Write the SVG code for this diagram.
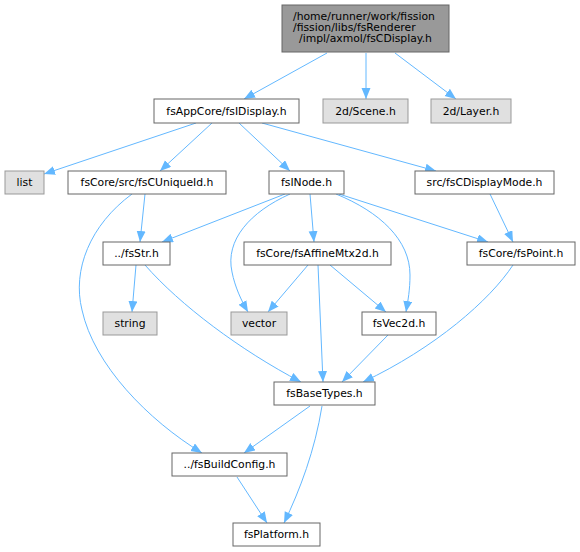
<svg xmlns="http://www.w3.org/2000/svg" width="580" height="552" viewBox="0 0 580 552">
<defs>
<style>
.n rect{fill:#ffffff;stroke:#666666;stroke-width:1}
.x rect{fill:#e0e0e0;stroke:#999999;stroke-width:1}
.m rect{fill:#999999;stroke:#666666;stroke-width:1}
text{font-family:"DejaVu Sans","Liberation Sans",sans-serif;font-size:10.8px;fill:#000000;text-anchor:middle}
#edges path{fill:none;stroke:#63b8ff;stroke-width:1;marker-end:url(#ah)}
</style>
<marker id="ah" markerUnits="userSpaceOnUse" markerWidth="12" markerHeight="10" refX="11" refY="4.5" orient="auto">
<path d="M0,0 L11,4.5 L0,9 z" fill="#63b8ff"/>
</marker>
</defs>
<rect width="580" height="552" fill="#ffffff"/>
<g id="edges">
<path d="M327,53 L244,99"/>
<path d="M366,53 L366,99"/>
<path d="M395,53 L456,99"/>
<path d="M196,123 L44,174"/>
<path d="M212,123 L160,171"/>
<path d="M239,123 L290,171"/>
<path d="M262,123 L436,171"/>
<path d="M145,194 L140,242"/>
<path d="M132,194 C 90,225 72,270 82,310 C 94,365 148,420 202,453"/>
<path d="M285,194 L162,242"/>
<path d="M290,194 C 250,212 225,240 232,272 C 235,287 241,300 248,312"/>
<path d="M310,194 L314,242"/>
<path d="M336,194 C 380,212 410,240 410,275 C 410,290 408,300 406,312"/>
<path d="M339,194 L488,242"/>
<path d="M490,194 L513,242"/>
<path d="M136,265 L132,312"/>
<path d="M145,265 C 180,305 240,350 301,382"/>
<path d="M308,265 L268,312"/>
<path d="M318,265 L323,382"/>
<path d="M330,265 L386,312"/>
<path d="M388,335 L342,382"/>
<path d="M513,265 C 490,300 435,348 363,382"/>
<path d="M310,406 L244,453"/>
<path d="M322,406 C 315,450 300,490 284,523"/>
<path d="M237,477 L267,523"/>
</g>
<g id="fsCDisplay" class="m"><rect x="282" y="5" width="167" height="47"/>
<text x="293" y="20" style="text-anchor:start">/home/runner/work/fission</text>
<text x="293" y="31" style="text-anchor:start">/fission/libs/fsRenderer</text>
<text x="365.5" y="42">/impl/axmol/fsCDisplay.h</text></g>
<g id="fsIDisplay" class="n"><rect x="154" y="99" width="145" height="24"/><text x="226.5" y="115">fsAppCore/fsIDisplay.h</text></g>
<g id="Scene" class="x"><rect x="323" y="99" width="85" height="24"/><text x="365.5" y="115">2d/Scene.h</text></g>
<g id="Layer" class="x"><rect x="431" y="99" width="80" height="24"/><text x="471" y="115">2d/Layer.h</text></g>
<g id="list" class="x"><rect x="5" y="171" width="39" height="23"/><text x="24.5" y="186">list</text></g>
<g id="fsCUniqueId" class="n"><rect x="68" y="171" width="158" height="23"/><text x="147" y="186">fsCore/src/fsCUniqueId.h</text></g>
<g id="fsINode" class="n"><rect x="269" y="171" width="75" height="23"/><text x="306.5" y="186">fsINode.h</text></g>
<g id="fsCDisplayMode" class="n"><rect x="415" y="171" width="139" height="23"/><text x="484.5" y="186">src/fsCDisplayMode.h</text></g>
<g id="fsStr" class="n"><rect x="103" y="242" width="67" height="23"/><text x="136.5" y="257">../fsStr.h</text></g>
<g id="fsAffineMtx2d" class="n"><rect x="244" y="242" width="147" height="23"/><text x="317.5" y="257">fsCore/fsAffineMtx2d.h</text></g>
<g id="fsPoint" class="n"><rect x="467" y="242" width="108" height="23"/><text x="521" y="257">fsCore/fsPoint.h</text></g>
<g id="string" class="x"><rect x="103" y="312" width="54" height="23"/><text x="130" y="327">string</text></g>
<g id="vector" class="x"><rect x="231" y="312" width="56" height="23"/><text x="259" y="327">vector</text></g>
<g id="fsVec2d" class="n"><rect x="362" y="312" width="74" height="23"/><text x="399" y="327">fsVec2d.h</text></g>
<g id="fsBaseTypes" class="n"><rect x="274" y="382" width="101" height="23"/><text x="324.5" y="397">fsBaseTypes.h</text></g>
<g id="fsBuildConfig" class="n"><rect x="172" y="453" width="115" height="23"/><text x="229.5" y="468">../fsBuildConfig.h</text></g>
<g id="fsPlatform" class="n"><rect x="233" y="523" width="87" height="23"/><text x="276.5" y="538">fsPlatform.h</text></g>
</svg>
